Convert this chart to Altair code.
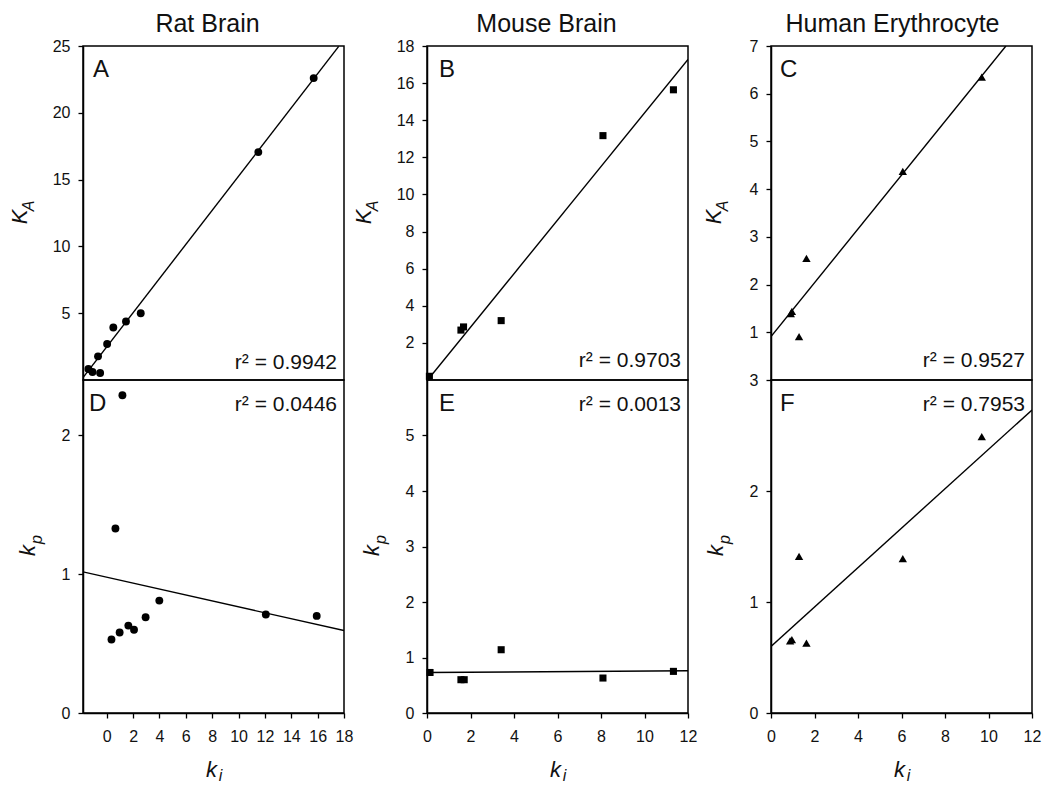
import altair as alt
import pandas as pd

FONT = "Liberation Sans"
INK = "#111111"

# ---------------- data ----------------
# Rat brain
ratA_ki = [-1.39, -1.08, -0.66, -0.50, 0.03, 0.50, 1.46, 2.58, 11.50, 15.70]
ratA_KA = [0.82, 0.60, 1.77, 0.52, 2.69, 3.93, 4.38, 5.00, 17.06, 22.60]
ratA_fit_x = [-1.8, 17.6]
ratA_fit_y = [0.18, 24.97]

ratD_ki = [0.36, 0.66, 0.98, 1.19, 1.64, 2.07, 2.95, 3.99, 12.07, 15.93]
ratD_kp = [0.53, 1.33, 0.58, 2.29, 0.63, 0.60, 0.69, 0.81, 0.71, 0.70]
ratD_fit_x = [-1.8, 18.0]
ratD_fit_y = [1.017, 0.594]

# Mouse brain
mouseB_ki = [0.11, 1.56, 1.68, 3.41, 8.09, 11.33]
mouseB_KA = [0.20, 2.69, 2.86, 3.20, 13.17, 15.64]
mouseB_fit_x = [0.03, 12.0]
mouseB_fit_y = [0.0, 17.28]

mouseE_ki = [0.14, 1.56, 1.71, 3.41, 8.09, 11.33]
mouseE_kp = [0.73, 0.60, 0.60, 1.14, 0.63, 0.75]
mouseE_fit_x = [0.0, 12.0]
mouseE_fit_y = [0.73, 0.76]

# Human erythrocyte
humanC_ki = [0.91, 0.96, 1.29, 1.63, 6.06, 9.69]
humanC_KA = [1.39, 1.44, 0.91, 2.55, 4.37, 6.35]
humanC_fit_x = [0.0, 10.8]
humanC_fit_y = [0.91, 7.0]

humanF_ki = [0.88, 0.96, 1.29, 1.63, 6.06, 9.69]
humanF_kp = [0.65, 0.66, 1.41, 0.63, 1.39, 2.49]
humanF_fit_x = [0.0, 12.0]
humanF_fit_y = [0.60, 2.73]

titles = ["Rat Brain", "Mouse Brain", "Human Erythrocyte"]
letters = ["A", "B", "C", "D", "E", "F"]
r2_texts = ["r\u00b2 = 0.9942", "r\u00b2 = 0.9703", "r\u00b2 = 0.9527",
            "r\u00b2 = 0.0446", "r\u00b2 = 0.0013", "r\u00b2 = 0.7953"]

W = 261
H_TOP = 334
H_BOT = 333


def txt(text, x, y, size, align="left", baseline="alphabetic", angle=None,
        dx=None, dy=None, italic=False):
    kw = dict(text=text, fontSize=size, font=FONT, align=align,
              baseline=baseline, color=INK)
    if angle is not None:
        kw["angle"] = angle
    if dx is not None:
        kw["dx"] = dx
    if dy is not None:
        kw["dy"] = dy
    if italic:
        kw["fontStyle"] = "italic"
    return alt.Chart(pd.DataFrame({"t": [text]})).mark_text(**kw).encode(
        x=alt.value(x), y=alt.value(y))


def yaxis(vals):
    return alt.Axis(values=vals, title=None, tickSize=5, labelFontSize=16,
                    labelFont=FONT, labelColor=INK, domainColor="black",
                    tickColor="black", grid=False, labelPadding=8,
                    domainWidth=1.5, tickWidth=1.3, labelFlush=False,
                    labelOverlap=False)


def xaxis(vals):
    return alt.Axis(values=vals, title=None, tickSize=5, labelFontSize=16,
                    labelFont=FONT, labelColor=INK, domainColor="black",
                    tickColor="black", grid=False, labelPadding=10,
                    domainWidth=1.5, tickWidth=1.3, labelFlush=False,
                    labelOverlap=False)


def panel(xs, ys, fx, fy, xdom, ydom, yvals, xvals, shape, size, height,
          letter, letter_x, r2, r2_y, ylab, ysub, ylab_x, title=None,
          title_dx=0, xlab=False):
    df = pd.DataFrame({"x": xs, "y": ys})
    ldf = pd.DataFrame({"x": fx, "y": fy})
    xa = xaxis(xvals) if xvals is not None else None
    xenc = alt.X("x:Q", scale=alt.Scale(domain=xdom, nice=False, zero=False),
                 axis=xa)
    yenc = alt.Y("y:Q", scale=alt.Scale(domain=ydom, nice=False, zero=False),
                 axis=yaxis(yvals))
    line = alt.Chart(ldf).mark_line(color="black", strokeWidth=1.4,
                                    clip=True).encode(x=xenc, y=yenc)
    pts = alt.Chart(df).mark_point(shape=shape, filled=True, size=size,
                                   color="black", opacity=1).encode(
        x=xenc, y=yenc)
    layers = [line, pts,
              txt(letter, letter_x, 31, 24),
              txt(r2, W - 7, r2_y, 21, align="right")]
    # y-axis title: italic main letter with rotated subscript
    cy = height / 2 + 4
    layers.append(txt(ylab, ylab_x, cy, 22, align="center", angle=270,
                      italic=True))
    layers.append(txt(ysub, ylab_x, cy, 16, align="center", angle=270,
                      dx=11, dy=7, italic=True))
    if xlab:
        layers.append(txt("k", W / 2 - 2, height + 64, 22, align="center",
                          italic=True))
        layers.append(txt("i", W / 2 + 7, height + 68, 16, align="center",
                          italic=True))
    if title is not None:
        layers.append(txt(title, W / 2 + title_dx, -14, 25, align="center"))
    return alt.layer(*layers).properties(width=W, height=height)


A = panel(ratA_ki, ratA_KA, ratA_fit_x, ratA_fit_y, [-1.8, 18], [0, 25],
          [5, 10, 15, 20, 25], None, "circle", 62, H_TOP, letters[0], 10,
          r2_texts[0], 323, "K", "A", -56, title=titles[0], title_dx=-6)
D = panel(ratD_ki, ratD_kp, ratD_fit_x, ratD_fit_y, [-1.8, 18], [0, 2.4],
          [0, 1, 2], [0, 2, 4, 6, 8, 10, 12, 14, 16, 18], "circle", 62, H_BOT,
          letters[3], 6, r2_texts[3], 31, "k", "p", -48, xlab=True)
B = panel(mouseB_ki, mouseB_KA, mouseB_fit_x, mouseB_fit_y, [0, 12], [0, 18],
          [2, 4, 6, 8, 10, 12, 14, 16, 18], None, "square", 50, H_TOP,
          letters[1], 12, r2_texts[1], 321, "K", "A", -56, title=titles[1],
          title_dx=-11)
E = panel(mouseE_ki, mouseE_kp, mouseE_fit_x, mouseE_fit_y, [0, 12], [0, 6],
          [0, 1, 2, 3, 4, 5], [0, 2, 4, 6, 8, 10, 12], "square", 50, H_BOT,
          letters[4], 12, r2_texts[4], 31, "k", "p", -48, xlab=True)
C = panel(humanC_ki, humanC_KA, humanC_fit_x, humanC_fit_y, [0, 12], [0, 7],
          [1, 2, 3, 4, 5, 6, 7], None, "triangle-up", 70, H_TOP,
          letters[2], 9, r2_texts[2], 321, "K", "A", -50, title=titles[2],
          title_dx=-9)
F = panel(humanF_ki, humanF_kp, humanF_fit_x, humanF_fit_y, [0, 12], [0, 3],
          [0, 1, 2, 3], [0, 2, 4, 6, 8, 10, 12], "triangle-up", 70, H_BOT,
          letters[5], 9, r2_texts[5], 31, "k", "p", -48, xlab=True)

chart = alt.concat(A, B, C, D, E, F, columns=3,
                   spacing={"row": 0, "column": 83}, bounds="flush").properties(
    padding={"left": 0, "top": 3, "right": 0, "bottom": 0},
    background="white",
).configure_view(stroke="black", strokeWidth=1.5)

chart.save("out.html", embed_options={"renderer": "svg", "actions": False})
